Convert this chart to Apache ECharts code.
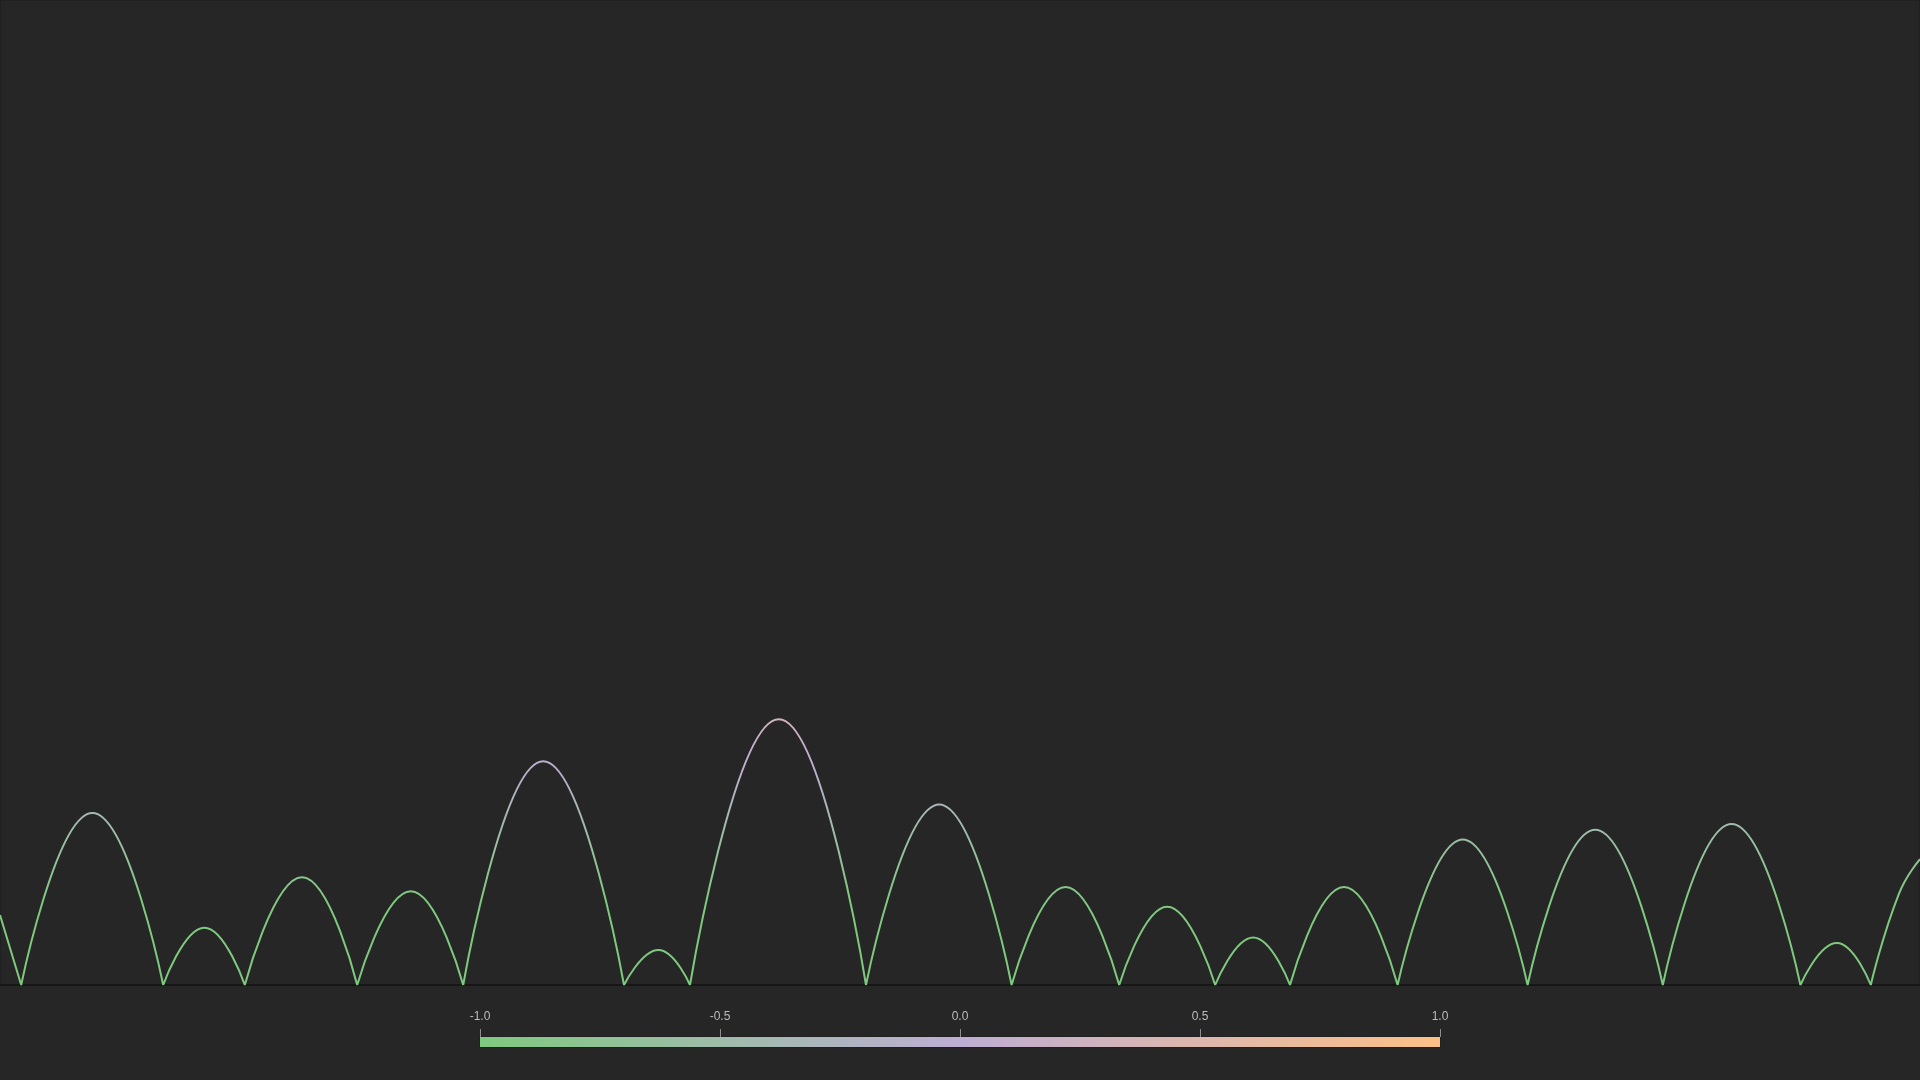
<!DOCTYPE html>
<html>
<head>
<meta charset="utf-8">
<title>arches</title>
<script src="https://cdn.jsdelivr.net/npm/echarts@6/dist/echarts.min.js"></script>
<style>
  html, body { margin: 0; padding: 0; background: #262626; }
  #chart { width: 1920px; height: 1080px; }
</style>
</head>
<body>
<div id="chart"></div>
<script>
// y axis range of the main plot (the curve touches the bottom at every cusp)
const yMin = -1.6;
const yMax = 5.44;

// x where the curve touches the axis
const cuspX = [0.53, 4.08, 6.12, 8.93, 11.58, 15.6, 17.25, 21.65, 25.29,
  27.98, 30.38, 32.25, 34.94, 38.19, 41.57, 45.01, 46.77];
// top of each lobe between two cusps
const peakX = [2.31, 5.11, 7.55, 10.27, 13.58, 16.46, 19.47, 23.48,
  26.64, 29.18, 31.33, 33.6, 36.57, 39.88, 43.29, 45.92];
const peakY = [-0.37, -1.19, -0.83, -0.93, 0.0, -1.35, 0.3, -0.31,
  -0.9, -1.04, -1.26, -0.9, -0.56, -0.49, -0.45, -1.3];
// partial lobes cut by the left and right edges
const leftEdgeX = [0];
const leftEdgeY = [-1.1];
const rightEdgeX = [47.47, 48];
const rightEdgeY = [-0.95, -0.7];

// colour scale (Accent-like): low, mid, high
const scaleColors = ['#7fc97f', '#beaed4', '#fdc086'];
const scaleMin = -1;
const scaleMax = 1;

const chart = echarts.init(document.getElementById('chart'));

// each lobe is its own segment so the cusps stay sharp
const gap = x => [x, '-'];
const lineData = [];
leftEdgeX.forEach((x, i) => lineData.push([x, leftEdgeY[i]]));
lineData.push([cuspX[0], yMin]);
for (let i = 0; i < peakX.length; i++) {
  lineData.push(gap(cuspX[i]));
  lineData.push([cuspX[i], yMin]);
  lineData.push([peakX[i], peakY[i]]);
  lineData.push([cuspX[i + 1], yMin]);
}
const last = cuspX[cuspX.length - 1];
lineData.push(gap(last));
lineData.push([last, yMin]);
rightEdgeX.forEach((x, i) => lineData.push([x, rightEdgeY[i]]));

const option = {
  backgroundColor: '#262626',
  animation: false,
  grid: [
    {
      left: 0, right: 0, top: 0, bottom: 95,
      show: true, borderColor: '#1b1b1b', borderWidth: 1
    },
    {
      left: 480, width: 960, top: 1037, height: 10,
      show: true, borderColor: '#1b1b1b', borderWidth: 1
    }
  ],
  xAxis: [
    {
      type: 'value', min: 0, max: 48,
      axisLine: { onZero: false, lineStyle: { color: '#161616', width: 2 } },
      axisTick: { show: false },
      axisLabel: { show: false },
      splitLine: { show: false }
    },
    {
      gridIndex: 1, type: 'value', position: 'top',
      min: scaleMin, max: scaleMax, interval: 0.5,
      axisLine: { show: false },
      axisTick: { show: true, length: 8, lineStyle: { color: '#8c8c8c' } },
      axisLabel: {
        color: '#bdbdbd', fontSize: 12, margin: 14,
        formatter: v => v.toFixed(1)
      },
      splitLine: { show: false }
    }
  ],
  yAxis: [
    { type: 'value', min: yMin, max: yMax, show: false },
    { gridIndex: 1, type: 'category', data: ['scale'], show: false }
  ],
  visualMap: {
    show: false,
    type: 'continuous',
    seriesIndex: 0,
    dimension: 1,
    min: scaleMin,
    max: scaleMax,
    inRange: { color: scaleColors }
  },
  series: [
    {
      type: 'line',
      data: lineData,
      smooth: true,
      showSymbol: false,
      connectNulls: false,
      lineStyle: { width: 2 }
    },
    {
      type: 'bar', xAxisIndex: 1, yAxisIndex: 1, stack: 'scale',
      barWidth: '100%', data: [scaleMin],
      itemStyle: {
        color: new echarts.graphic.LinearGradient(0, 0, 1, 0, [
          { offset: 0, color: scaleColors[0] },
          { offset: 1, color: scaleColors[1] }
        ])
      }
    },
    {
      type: 'bar', xAxisIndex: 1, yAxisIndex: 1, stack: 'scale',
      barWidth: '100%', data: [scaleMax],
      itemStyle: {
        color: new echarts.graphic.LinearGradient(0, 0, 1, 0, [
          { offset: 0, color: scaleColors[1] },
          { offset: 1, color: scaleColors[2] }
        ])
      }
    }
  ]
};

chart.setOption(option);
window.addEventListener('resize', () => chart.resize());
</script>
</body>
</html>
